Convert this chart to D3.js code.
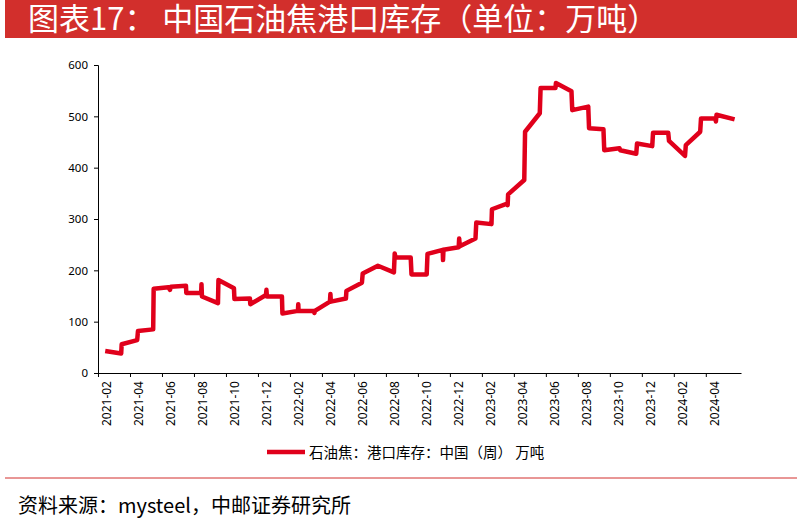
<!DOCTYPE html>
<html><head><meta charset="utf-8">
<script src="https://cdn.jsdelivr.net/npm/d3@7"></script>
<style>body{margin:0;background:#fff;font-family:"Noto Sans CJK SC","Noto Sans",sans-serif}</style>
</head><body><svg id="c" width="797" height="519"></svg>
<script>
// months since 2021-02 (fractional), weekly readings
const tMonths = [-0.05,0.95,0.98,1.95,2,2.95,2.98,3.9,4,4.05,5,5.02,5.95,5.97,6,7,7.03,8,8.03,9,9.02,10,10.03,10.06,11,11.03,12,12.02,12.04,13,13.03,13.06,14,14.03,14.06,15,15.03,16,16.05,17,18,18.05,18.1,19.05,19.1,20.05,20.1,21.05,21.07,21.1,22.05,22.08,22.12,23.1,23.15,24.1,24.13,25.08,25.11,25.14,26.15,26.2,27.12,27.17,28.1,28.13,29.1,29.15,30.15,30.2,31.1,31.15,32.1,32.15,33.15,33.2,34.15,34.2,35.15,35.2,36.2,36.25,37.15,37.2,38.1,38.13,38.17,39.3];
const values = [43,38,56,64,82,85,164,167,162,168,170,156,156,173,149,136,181,165,144,145,134,152,162,149,149,116,121,134,121,121,117,121,139,154,139,145,160,176,194,209,196,233,225,225,192,192,232,240,220,240,245,262,247,262,293,290,319,330,327,348,376,470,506,555,555,565,549,512,519,477,475,434,438,434,427,447,442,468,468,452,423,444,470,496,496,490,503,494];
const yTicks = [0,100,200,300,400,500,600];
const xTickMonths = d3.range(0, 40, 2);
const lineColor = "#e0001b";

const svg = d3.select("#c");
svg.append("rect").attr("x",5).attr("y",0).attr("width",792).attr("height",38).attr("fill","#d22f2c");
svg.append("text").attr("x",28).attr("y",30).attr("fill","#fff").attr("font-size",31)
  .text("图表17：  中国石油焦港口库存（单位：万吨）");

const x = d3.scaleLinear().domain([-0.5, 39.7]).range([98, 741]);
const y = d3.scaleLinear().domain([0, 600]).range([373, 65]);

svg.append("g").attr("transform","translate(98,0)")
  .call(d3.axisLeft(y).tickValues(yTicks).tickSize(4).tickPadding(6))
  .call(g => g.selectAll("text").attr("font-size",11.5).attr("font-family","Noto Sans, sans-serif"));

const monthLabel = m => { const yy = 2021 + Math.floor((m + 1) / 12), mm = ((m + 1) % 12) + 1; return yy + "-" + String(mm).padStart(2,"0"); };
const xa = svg.append("g").attr("transform","translate(0,373)")
  .call(d3.axisBottom(x).tickValues(xTickMonths).tickFormat(monthLabel).tickSize(4).tickSizeOuter(0));
xa.selectAll(".tick line").attr("transform","translate(-8,0)");
xa.selectAll(".tick text").attr("font-size",12).attr("font-family","Noto Sans, sans-serif")
  .attr("text-anchor","end").attr("transform","rotate(-90)")
  .attr("x",-8).attr("y",0).attr("dx",0).attr("dy","0.35em");

const pts = tMonths.map((t,i)=>[t, values[i]]);
svg.append("path").datum(pts).attr("fill","none").attr("stroke",lineColor)
  .attr("stroke-width",4.5).attr("stroke-linejoin","round")
  .attr("d", d3.line().x(d=>x(d[0])).y(d=>y(d[1])));

svg.append("line").attr("x1",267).attr("x2",305).attr("y1",452).attr("y2",452).attr("stroke",lineColor).attr("stroke-width",4.5);
svg.append("text").attr("x",309).attr("y",458).attr("font-size",14.5).text("石油焦：港口库存：中国（周）  万吨");

svg.append("line").attr("x1",5).attr("x2",797).attr("y1",478).attr("y2",478).attr("stroke","#d22f2c").attr("stroke-width",1);
svg.append("text").attr("x",18).attr("y",513).attr("font-size",20).text("资料来源：mysteel，中邮证券研究所");
</script></body></html>
